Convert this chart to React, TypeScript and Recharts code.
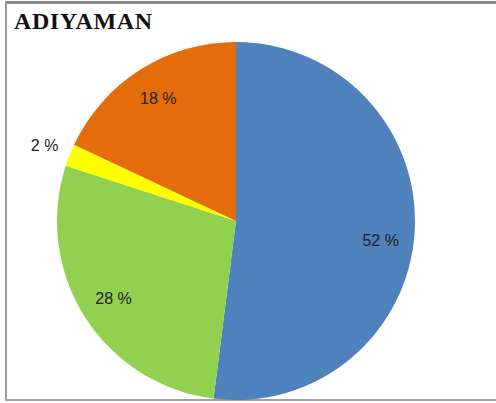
import React from 'react';
import { PieChart, Pie, Cell } from 'recharts';

// dilimler (saat yönünde, tepeden başlayarak)
const sliceNames = ['Mavi', 'Yeşil', 'Sarı', 'Turuncu'];
const sliceValues = [52, 28, 2, 18];
const sliceColors = ['#4F81BD', '#92D050', '#FFFF00', '#E46C0A'];

const data = sliceNames.map((name, i) => ({ name, value: sliceValues[i] }));

const RADIAN = Math.PI / 180;

// Excel tarzı yüzde etiketi: küçük dilimler dışarıda
const renderLabel = ({ cx, cy, midAngle, outerRadius, value }: any) => {
  const ratio = value < 5 ? 1.15 : 0.81;
  const r = outerRadius * ratio;
  const x = cx + r * Math.cos(-midAngle * RADIAN);
  const y = cy + r * Math.sin(-midAngle * RADIAN) + (value > 50 ? 10 : 0);
  return (
    <text
      x={x}
      y={y}
      fill="#222"
      fontSize={16}
      fontFamily="'Liberation Sans', Arial, sans-serif"
      textAnchor="middle"
      dominantBaseline="central"
    >
      {`${value} %`}
    </text>
  );
};

export default function App() {
  return (
    <div style={{ position: 'fixed', left: 0, top: 0, width: 496, height: 403, overflow: 'hidden', background: '#fff' }}>
      {/* çerçeve: sağ kenar görünmüyor */}
      <svg width={496} height={403} style={{ position: 'absolute', left: 0, top: 0 }}>
        <line x1={5} y1={2.5} x2={496} y2={2.5} stroke="#8a8a8a" strokeWidth={3} />
        <line x1={6} y1={1} x2={6} y2={401} stroke="#9a9a9a" strokeWidth={2} />
        <line x1={5} y1={400} x2={496} y2={400} stroke="#a0a0a0" strokeWidth={2} />
      </svg>
      <div
        style={{
          position: 'absolute',
          left: 14,
          top: 8,
          fontFamily: "'Liberation Serif', 'Times New Roman', serif",
          fontWeight: 'bold',
          fontSize: 24,
          letterSpacing: 0.6,
          color: '#111',
        }}
      >
        ADIYAMAN
      </div>
      <div style={{ position: 'absolute', left: 0, top: 0 }}>
        <PieChart width={496} height={403} margin={{ top: 0, right: 0, bottom: 0, left: 0 }}>
          <Pie
            data={data}
            dataKey="value"
            nameKey="name"
            cx={236}
            cy={221}
            outerRadius={179}
            startAngle={90}
            endAngle={-270}
            stroke="none"
            label={renderLabel}
            labelLine={false}
            isAnimationActive={false}
          >
            {data.map((d, i) => (
              <Cell key={d.name} fill={sliceColors[i]} />
            ))}
          </Pie>
        </PieChart>
      </div>
    </div>
  );
}
